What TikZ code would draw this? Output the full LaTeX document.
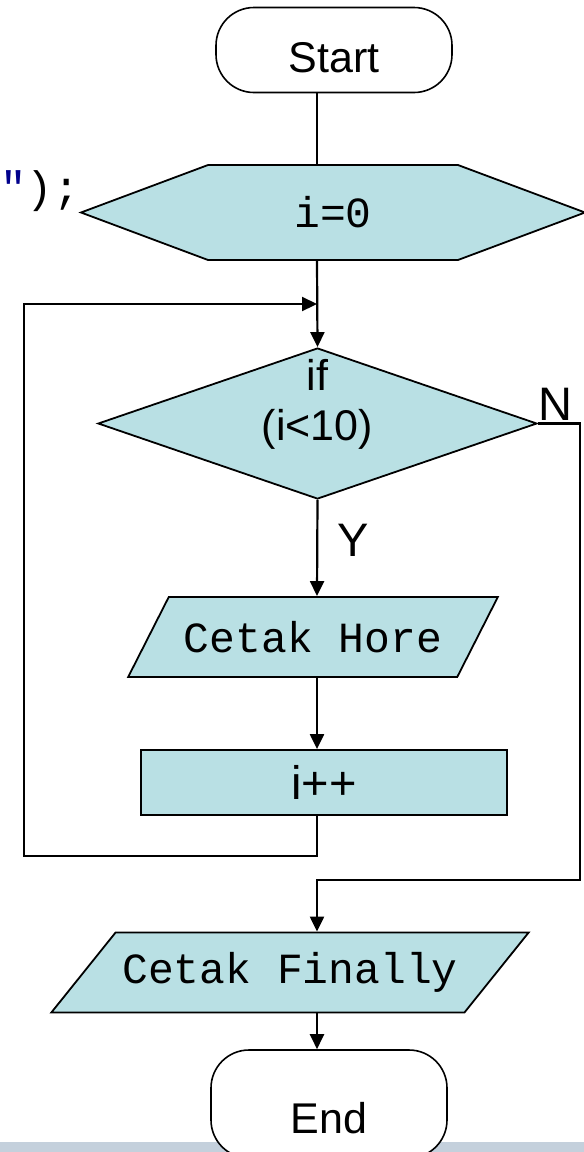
\documentclass[tikz,border=0pt]{standalone}
\usepackage{fontspec}
\setmainfont{Liberation Sans}
\setmonofont{Liberation Mono}
\usetikzlibrary{arrows.meta, shapes.geometric, shapes.symbols}
\definecolor{boxcyan}{RGB}{185,224,228}
\definecolor{bandgray}{RGB}{196,208,220}
\definecolor{codeblue}{RGB}{0,0,140}

\tikzset{
  line/.style={line width=2.2pt},
  arr/.style={line width=2.2pt, -{Triangle[length=15pt,width=14pt]}},
  term/.style={draw, line width=1.6pt, fill=white, rounded corners=38pt,
    minimum width=236pt, minimum height=85pt, inner sep=0pt,
    text depth=0pt, font=\fontsize{43}{50}\selectfont},
  prep/.style={draw, line width=1.8pt, fill=boxcyan, signal, signal to=west and east,
    signal pointer angle=41, minimum width=504pt, minimum height=95pt, inner sep=0pt,
    font=\ttfamily\fontsize{43}{50}\selectfont},
  decision/.style={draw, line width=1.8pt, fill=boxcyan, diamond, minimum width=439pt,
    minimum height=151pt, inner sep=0pt, align=center, text height=33pt, text depth=0pt,
    font=\fontsize{43}{50}\selectfont},
  io/.style={draw, line width=1.8pt, fill=boxcyan, trapezium, trapezium stretches=true,
    minimum height=80pt, inner sep=0pt, font=\ttfamily\fontsize{43}{50}\selectfont},
  process/.style={draw, line width=1.8pt, fill=boxcyan, rectangle, minimum width=366pt,
    minimum height=65pt, inner sep=0pt, font=\fontsize{47}{56}\selectfont},
  lbl/.style={inner sep=0pt, text depth=0pt, font=\fontsize{47}{56}\selectfont},
  codetxt/.style={inner sep=0pt, font=\ttfamily\fontsize{44}{50}\selectfont}
}

\begin{document}
\begin{tikzpicture}[x=1pt, y=-1pt]
  % Page and bottom band
  \useasboundingbox (0,0) rectangle (584,1152);
  \fill[bandgray] (0,1142) rectangle (584,1152);

  % Leftover code text
  \node[codetxt, anchor=base west] (snip) at (0,202) {\textcolor{codeblue}{"});};

  % Blocks
  \coordinate (spine) at (317,0);
  \node[term, text height=45pt] (start) at (334,50) {Start};
  \node[prep] (init) at (333,212.5) {i=0};
  \node[decision] (cond) at (317.5,423.5) {if\\(i<10)};
  \node[io, trapezium left angle=41, trapezium right angle=139, minimum width=370pt]
    (hore) at (313,637) {Cetak Hore};
  \node[process] (inc) at (324,782.5) {i++};
  \node[io, trapezium left angle=33, trapezium right angle=147, minimum width=480pt]
    (fin) at (290,972.5) {Cetak Finally};
  \node[term, minimum height=108pt, text height=59pt] (end) at (329,1104) {End};

  % Corners of the loop and the exit
  \coordinate (loopbl) at (24,856);
  \coordinate (looptop) at (317,304);
  \coordinate (exitbr) at (580,880);

  % Connectors
  \draw[line] (start.south -| spine) -- (init.north -| spine);
  \draw[arr] (init.south -| spine) -- (cond.north);
  \draw[arr] (cond.south) -- node[lbl, right=19pt, pos=0.42] (ylbl) {Y} (hore.north -| spine);
  \draw[arr] (hore.south -| spine) -- (inc.north -| spine);
  \draw[arr] (inc.south -| spine) |- (loopbl) |- (looptop);
  \draw[arr] (cond.east) -- node[lbl, above=2pt, pos=0.42] (nlbl) {N} (cond.east -| exitbr)
    -- (exitbr) -| (fin.north -| spine);
  \draw[arr] (fin.south -| spine) -- (end.north -| spine);
\end{tikzpicture}
\end{document}
